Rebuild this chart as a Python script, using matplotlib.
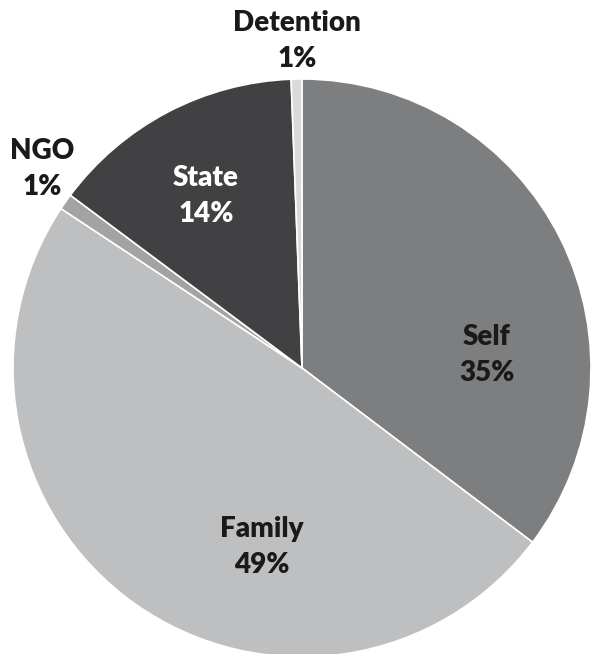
import matplotlib.pyplot as plt

# Share of cases by source
categories = ["Self", "Family", "NGO", "State", "Detention"]
shares = [35.3, 49.0, 0.9, 14.2, 0.6]
colors = ["#7d7e80", "#bebfc1", "#a2a3a5", "#414143", "#d9dadc"]

# label centres (pixel layout of the reference)
label_px = [(487, 355), (262, 547), (42, 169), (206, 196), (297, 41)]

cx, cy, r = 302, 368, 289  # pie centre / radius in pixels
W, H = 592, 654

fig = plt.figure(figsize=(W / 100, H / 100), dpi=100)
ax = fig.add_axes([0, 0, 1, 1])

ax.pie(shares, colors=colors, startangle=90, counterclock=False,
       radius=1, center=(0, 0),
       wedgeprops=dict(edgecolor="white", linewidth=1.2))

ax.set_xlim(-cx / r, (W - cx) / r)
ax.set_ylim(-(H - cy) / r, cy / r)
ax.set_aspect("auto")
ax.axis("off")

for name, val, (px, py) in zip(categories, shares, label_px):
    col = "white" if name == "State" else "#1a1a1a"
    ax.text((px - cx) / r, (cy - py) / r, f"{name}\n{round(val)}%",
            ha="center", va="center", fontsize=20, fontweight="heavy",
            family="Lato", color=col, linespacing=1.5)

fig.savefig("out.png", dpi=100)
